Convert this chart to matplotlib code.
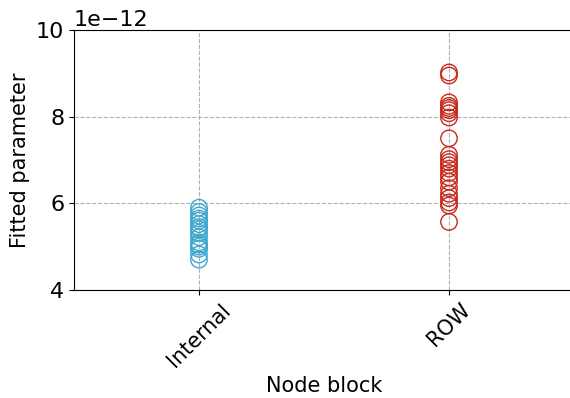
import numpy as np
import matplotlib
matplotlib.use('Agg')
import matplotlib.pyplot as plt

# fitted parameter per node (units of 1e-12)
categories = ['Internal', 'ROW']
internal_vals = [5.90, 5.80, 5.72, 5.65, 5.60, 5.52, 5.45, 5.40, 5.32, 5.22,
                 5.10, 5.05, 5.00, 4.95, 4.82, 4.70]
row_vals = [9.02, 8.95, 8.33, 8.25, 8.20, 8.15, 8.08, 7.98, 7.50, 7.12,
            7.02, 6.95, 6.88, 6.80, 6.70, 6.60, 6.50, 6.35, 6.22, 6.12,
            6.02, 5.95, 5.57]
colors = ['#3fa7cf', '#c8281c']

plt.rcParams['font.size'] = 15
plt.rcParams['ytick.labelsize'] = 16

fig = plt.figure(figsize=(5.7, 3.98), dpi=100)
ax = fig.add_axes([74 / 570, 108 / 398, 500 / 570, 260 / 398])

for i, vals in enumerate([internal_vals, row_vals]):
    y = np.array(vals) * 1e-12
    ax.scatter(np.full(len(y), i), y, s=140, facecolors='none',
               edgecolors=colors[i], linewidths=1.0, zorder=3)

ax.set_xlim(-0.5, 1.5)
ax.set_ylim(4e-12, 10e-12)
ax.set_yticks(np.array([4, 6, 8, 10]) * 1e-12)
ax.ticklabel_format(axis='y', style='sci', scilimits=(-12, -12))
ax.yaxis.get_offset_text().set_fontsize(16)
ax.set_xticks([0, 1])
ax.set_xticklabels(categories, rotation=45)
ax.grid(True, linestyle='--', color='#b0b0b0', linewidth=0.8)
ax.set_axisbelow(True)
ax.set_xlabel('Node block')
ax.set_ylabel('Fitted parameter')

fig.savefig('out.png', dpi=100)
